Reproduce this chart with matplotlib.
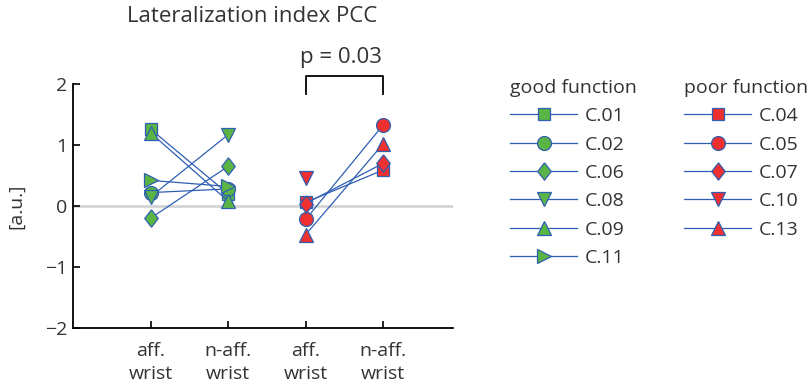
import numpy as np
import matplotlib
matplotlib.use("Agg")
import matplotlib.pyplot as plt

plt.rcParams['font.family'] = ['Open Sans', 'DejaVu Sans']

# data
conditions = ['aff.\nwrist', 'n-aff.\nwrist', 'aff.\nwrist', 'n-aff.\nwrist']

good_ids = ['C.01', 'C.02', 'C.06', 'C.08', 'C.09', 'C.11']
good_markers = ['s', 'o', 'D', 'v', '^', '>']
good_aff = [1.26, 0.22, -0.20, 0.15, 1.20, 0.42]
good_naff = [0.20, 0.28, 0.65, 1.17, 0.08, 0.32]

poor_ids = ['C.04', 'C.05', 'C.07', 'C.10', 'C.13']
poor_markers = ['s', 'o', 'D', 'v', '^']
poor_aff = [0.06, -0.22, 0.04, 0.46, -0.47]
poor_naff = [0.59, 1.33, 0.70, np.nan, 1.02]

p_text = 'p = 0.03'

blue = '#2f5fb3'
green = '#5bb544'
red = '#ee3030'
txt = '#333333'
fs = 14

# slightly tall diamond like the reference
diamond = [(0, 1), (0.78, 0), (0, -1), (-0.78, 0), (0, 1)]

fig = plt.figure(figsize=(8.1, 3.86), dpi=100)
ax = fig.add_axes([73/810, 1-328/386, 380/810, 244/386])

ax.axhline(0, color='#d4d4d4', lw=2, zorder=0)

msize = {'s': 9, 'o': 10, 'D': 12.5, 'v': 10.5, '^': 10.5, '>': 10.5}


def mk(m):
    return diamond if m == 'D' else m


good_handles = []
for name, m, a, b in zip(good_ids, good_markers, good_aff, good_naff):
    h, = ax.plot([1, 2], [a, b], color=blue, lw=0.9, marker=mk(m), ms=msize[m],
                 mfc=green, mec=blue, mew=0.9, label=name)
    good_handles.append(h)

poor_handles = []
for name, m, a, b in zip(poor_ids, poor_markers, poor_aff, poor_naff):
    h, = ax.plot([3, 4], [a, b], color=blue, lw=0.9, marker=mk(m), ms=msize[m],
                 mfc=red, mec=blue, mew=0.9, label=name)
    poor_handles.append(h)

# significance bracket
ax.plot([3, 3, 4, 4], [1.83, 2.13, 2.13, 1.83], color='black', lw=1.3,
        clip_on=False)
ax.text(3.45, 2.27, p_text, ha='center', va='bottom', fontsize=16, color=txt)

ax.set_xlim(0, 4.9)
ax.set_ylim(-2, 2)
ax.set_xticks([1, 2, 3, 4])
ax.set_xticklabels(conditions, color=txt, fontsize=fs, linespacing=1.4)
ax.set_yticks([-2, -1, 0, 1, 2])
ax.set_yticklabels(['\u22122', '\u22121', '0', '1', '2'], color=txt, fontsize=fs)
ax.tick_params(direction='in', length=5, width=1.2, color='black')
ax.tick_params(axis='x', pad=10)
ax.tick_params(axis='y', pad=4)
ax.set_ylabel('[a.u.]', color=txt, fontsize=fs, labelpad=14)
for s in ['top', 'right']:
    ax.spines[s].set_visible(False)
for s in ['left', 'bottom']:
    ax.spines[s].set_linewidth(1.3)

fig.text(252/810, 1-17/386, 'Lateralization index PCC', ha='center',
         va='center', fontsize=16, color=txt)

leg_kw = dict(frameon=False, loc='upper left', fontsize=fs, title_fontsize=fs,
              alignment='left', handlelength=3.45, handletextpad=0.42,
              labelspacing=0.53, borderaxespad=0, borderpad=0, numpoints=1)
lg1 = fig.legend(handles=good_handles, title='good function',
                 bbox_to_anchor=(510/810, 1-79/386), **leg_kw)
lg2 = fig.legend(handles=poor_handles, title='poor function',
                 bbox_to_anchor=(684/810, 1-79/386), **leg_kw)
for lg in (lg1, lg2):
    lg.get_title().set_color(txt)
    for t in lg.get_texts():
        t.set_color(txt)

fig.savefig('out.png', dpi=100)
